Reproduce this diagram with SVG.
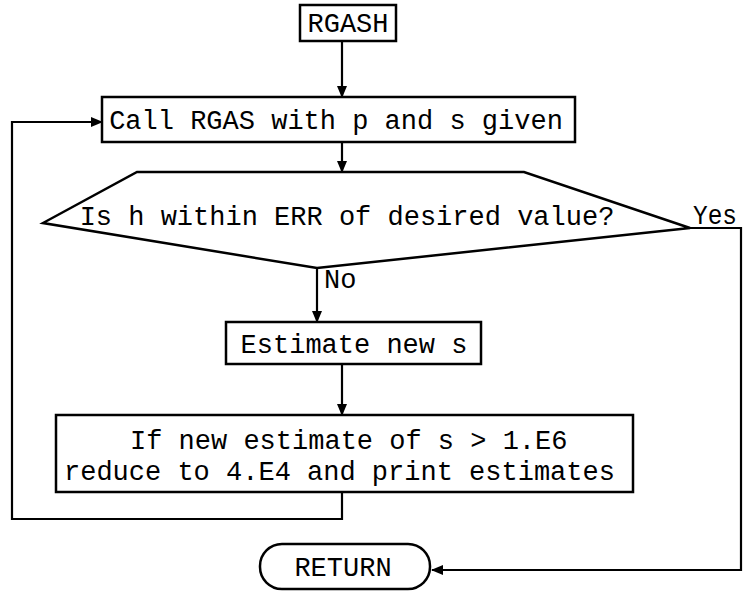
<svg xmlns="http://www.w3.org/2000/svg" width="743" height="592" viewBox="0 0 743 592">
<style>
.box{fill:#fff;stroke:#000;stroke-width:2.5}
.ln{fill:none;stroke:#000;stroke-width:2.2}
text{font-family:"Liberation Mono","DejaVu Sans Mono",monospace;font-size:27px;fill:#000}
.c{text-anchor:middle}
</style>
<defs>
<marker id="ah" markerWidth="12" markerHeight="10" refX="11" refY="5" orient="auto" markerUnits="userSpaceOnUse">
<path d="M0,0 L12,5 L0,10 Z" fill="#000"/>
</marker>
</defs>
<rect width="743" height="592" fill="#fff"/>
<g id="connectors">
<line class="ln" x1="342" y1="41" x2="342" y2="97" marker-end="url(#ah)"/>
<line class="ln" x1="342" y1="142" x2="342" y2="172" marker-end="url(#ah)"/>
<line class="ln" x1="317" y1="268" x2="317" y2="322" marker-end="url(#ah)"/>
<line class="ln" x1="342" y1="364" x2="342" y2="415" marker-end="url(#ah)"/>
<polyline class="ln" points="342,492 342,519 12,519 12,122 102,122" marker-end="url(#ah)"/>
<polyline class="ln" points="690,228 741,228 741,570 432,570" marker-end="url(#ah)"/>
<text x="693" y="224" textLength="44" lengthAdjust="spacingAndGlyphs">Yes</text>
<text x="324" y="288">No</text>
</g>
<g id="rgash">
<rect class="box" x="300" y="5" width="96" height="36"/>
<text class="c" x="348" y="32">RGASH</text>
</g>
<g id="call">
<rect class="box" x="102" y="97" width="473" height="45"/>
<text class="c" x="336" y="129">Call RGAS with p and s given</text>
</g>
<g id="decision">
<polygon class="box" points="137,172 524,172 690,228 317,268 43,223"/>
<text class="c" x="347" y="225">Is h within ERR of desired value?</text>
</g>
<g id="estimate">
<rect class="box" x="226" y="322" width="255" height="42"/>
<text class="c" x="354" y="353">Estimate new s</text>
</g>
<g id="reduce">
<rect class="box" x="56" y="415" width="577" height="77"/>
<text x="130" y="449">If new estimate of s &gt; 1.E6</text>
<text x="64" y="480">reduce to 4.E4 and print estimates</text>
</g>
<g id="return">
<rect class="box" x="260" y="544" width="170" height="45" rx="22" ry="22"/>
<text class="c" x="343" y="576">RETURN</text>
</g>
</svg>
